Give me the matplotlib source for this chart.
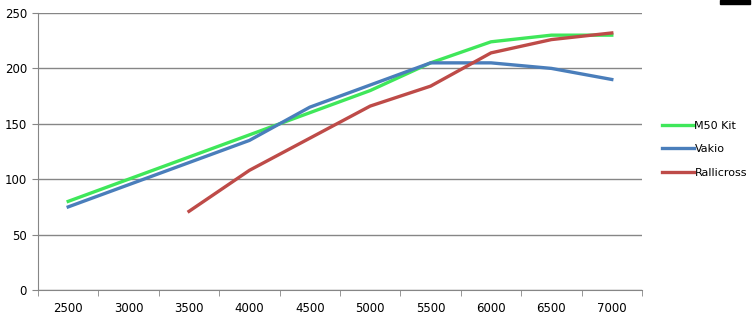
import matplotlib.pyplot as plt
import numpy as np
from matplotlib.patches import Rectangle

# --- Data ---
rpm = ['2500', '3000', '3500', '4000', '4500', '5000', '5500', '6000', '6500', '7000']
m50_kit = [80, 100, 120, 140, 160, 180, 205, 224, 230, 230]
vakio = [75, 95, 115, 135, 165, 185, 205, 205, 200, 190]
rallicross = [np.nan, np.nan, 71, 108, 137, 166, 184, 214, 226, 232]

green = '#3fe75a'
blue = '#4a7ebb'
red = '#be4b48'
grid_col = '#868686'

fig = plt.figure(figsize=(7.55, 3.14), dpi=100)
ax = fig.add_axes([38 / 755, 24 / 314, 604 / 755, 277 / 314])

x = np.arange(len(rpm))
ax.plot(x, m50_kit, color=green, lw=2.4, label='M50 Kit', zorder=3)
ax.plot(x, vakio, color=blue, lw=2.4, label='Vakio', zorder=3)
ax.plot(x, rallicross, color=red, lw=2.4, label='Rallicross', zorder=3)

ax.set_xlim(-0.5, len(rpm) - 0.5)
ax.set_ylim(0, 250)
ax.set_yticks(np.arange(0, 251, 50))
ax.set_xticks(x)
ax.set_xticklabels(rpm)
ax.set_xticks(np.arange(-0.5, len(rpm), 1), minor=True)

ax.grid(axis='y', color=grid_col, lw=1)
ax.set_axisbelow(True)
for s in ['top', 'right']:
    ax.spines[s].set_visible(False)
for s in ['left', 'bottom']:
    ax.spines[s].set_color(grid_col)

ax.tick_params(axis='x', which='major', length=0, pad=9, labelsize=8.5)
ax.tick_params(axis='x', which='minor', length=4, color=grid_col, direction='out')
ax.tick_params(axis='y', length=4, color=grid_col, labelsize=8.5, pad=4)

ax.legend(loc='center left', bbox_to_anchor=(1.017, 0.508), frameon=False,
          fontsize=8, handlelength=2.9, handletextpad=0.0, labelspacing=1.2)

# small black box in the top right corner
fig.add_artist(Rectangle((720 / 755, 310 / 314), 30 / 755, 4 / 314,
                         transform=fig.transFigure, color='black'))

fig.savefig('out.png', dpi=100)
